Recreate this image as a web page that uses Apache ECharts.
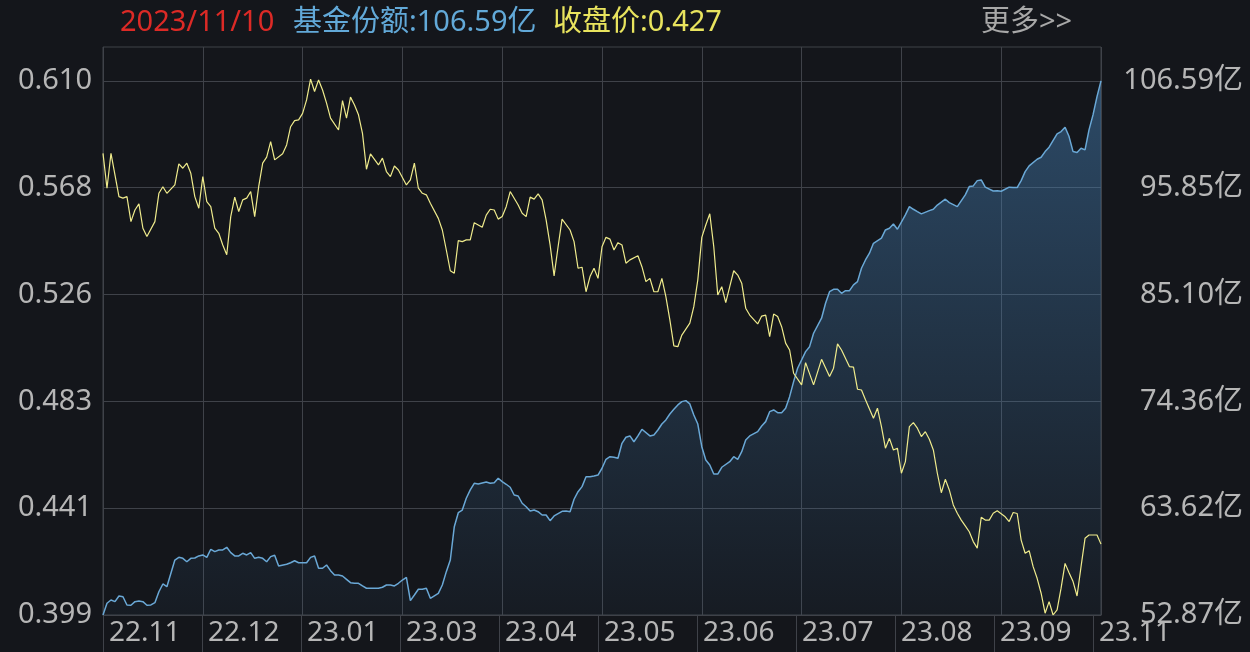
<!DOCTYPE html>
<html>
<head>
<meta charset="utf-8">
<script src="https://cdn.jsdelivr.net/npm/echarts@6/dist/echarts.min.js"></script>
<style>
html,body{margin:0;padding:0;background:#14161b;}
#c{width:1250px;height:652px;}
</style>
</head>
<body>
<div id="c"></div>
<script>
// ---------- data ----------
const headerDate = '2023/11/10';
const headerShare = '基金份额:106.59亿';
const headerPrice = '收盘价:0.427';
const headerMore = '更多>>';

const xTickValues = [0, 25, 50, 75, 100, 125, 150, 175, 200, 225, 250];
const xTickLabels = ['22.11', '22.12', '23.01', '23.03', '23.04', '23.05', '23.06', '23.07', '23.08', '23.09', '23.11'];

const leftTickValues = [0.399, 0.4412, 0.4834, 0.5256, 0.5678, 0.610];
const leftTickLabels = ['0.399', '0.441', '0.483', '0.526', '0.568', '0.610'];
const rightTickValues = [52.87, 63.614, 74.358, 85.102, 95.846, 106.59];
const rightTickLabels = ['52.87亿', '63.62亿', '74.36亿', '85.10亿', '95.85亿', '106.59亿'];

// [trading-day index, close price]
const closePrice = [
[0,0.5814],[1,0.5676],[2,0.5814],[4,0.5643],[5,0.5637],[6,0.5643],[7,0.5544],[8,0.5590],[9,0.5614],[10,0.5518],
[11,0.5485],[13,0.5544],[14,0.5656],[15,0.5682],[16,0.5656],[18,0.5689],[19,0.5772],[20,0.5755],[21,0.5775],[22,0.5735],
[23,0.5643],[24,0.5597],[25,0.5722],[26,0.5623],[27,0.5603],[28,0.5518],[29,0.5498],[30,0.5452],[31,0.5413],[32,0.5564],
[33,0.5641],[34,0.5584],[35,0.5630],[36,0.5637],[37,0.5663],[38,0.5564],[39,0.5682],[40,0.5775],[41,0.5799],[42,0.5860],
[43,0.5788],[45,0.5812],[46,0.5847],[47,0.5919],[48,0.5943],[49,0.5946],[50,0.5972],[51,0.6025],[52,0.6107],[53,0.6058],
[54,0.6104],[55,0.6064],[56,0.6012],[57,0.5953],[59,0.5906],[60,0.6022],[61,0.5953],[62,0.6036],[63,0.6005],[64,0.5966],
[65,0.5893],[66,0.5751],[67,0.5812],[69,0.5768],[70,0.5795],[71,0.5742],[72,0.5722],[73,0.5764],[74,0.5748],[76,0.5689],
[77,0.5709],[78,0.5775],[79,0.5676],[80,0.5656],[81,0.5650],[82,0.5617],[84,0.5557],[85,0.5511],[86,0.5432],[87,0.5350],
[88,0.5340],[89,0.5469],[90,0.5465],[91,0.5472],[92,0.5472],[93,0.5540],[94,0.5531],[95,0.5522],[96,0.5570],[97,0.5593],
[98,0.5590],[99,0.5554],[100,0.5564],[101,0.5603],[102,0.5663],[104,0.5610],[105,0.5577],[106,0.5564],[107,0.5641],[108,0.5633],
[109,0.5654],[110,0.5630],[111,0.5551],[112,0.5452],[113,0.5330],[114,0.5445],[115,0.5554],[117,0.5511],[118,0.5465],[119,0.5360],
[120,0.5364],[121,0.5267],[122,0.5327],[123,0.5360],[124,0.5320],[125,0.5445],[126,0.5482],[127,0.5475],[128,0.5432],[129,0.5461],
[130,0.5452],[131,0.5380],[132,0.5393],[134,0.5409],[135,0.5366],[136,0.5307],[137,0.5320],[138,0.5267],[139,0.5267],[140,0.5320],
[141,0.5248],[142,0.5156],[143,0.5053],[144,0.5050],[145,0.5096],[147,0.5143],[148,0.5208],[149,0.5314],[150,0.5482],[151,0.5531],
[152,0.5575],[153,0.5445],[154,0.5254],[155,0.5287],[156,0.5224],[157,0.5287],[158,0.5350],[159,0.5333],[160,0.5301],[161,0.5202],
[162,0.5175],[164,0.5140],[165,0.5171],[166,0.5175],[167,0.5090],[168,0.5179],[169,0.5169],[170,0.5129],[171,0.5064],[172,0.5037],
[173,0.4945],[175,0.4899],[176,0.4987],[178,0.4899],[180,0.5000],[182,0.4932],[183,0.4965],[184,0.5061],[185,0.5037],[187,0.4971],
[188,0.4969],[189,0.4882],[190,0.4879],[191,0.4840],[193,0.4767],[194,0.4807],[195,0.4734],[196,0.4649],[197,0.4688],[198,0.4642],
[199,0.4649],[200,0.4550],[201,0.4596],[202,0.4734],[203,0.4750],[204,0.4728],[205,0.4695],[206,0.4714],[207,0.4684],[208,0.4642],
[209,0.4550],[210,0.4473],[211,0.4526],[212,0.4484],[213,0.4425],[214,0.4392],[215,0.4365],[216,0.4342],[217,0.4319],[218,0.4280],
[219,0.4254],[220,0.4376],[221,0.4365],[222,0.4365],[223,0.4392],[224,0.4402],[226,0.4378],[227,0.4359],[228,0.4395],[229,0.4391],
[230,0.4286],[231,0.4234],[232,0.4244],[233,0.4181],[234,0.4135],[235,0.4076],[236,0.3997],[237,0.4043],[238,0.3990],[239,0.4010],
[240,0.4096],[241,0.4194],[242,0.4157],[243,0.4122],[244,0.4065],[245,0.4181],[246,0.4293],[247,0.4306],[249,0.4306],[250,0.4270]
];

// [trading-day index, fund share in 亿]
const fundShare = [
[0,52.87],[1,54.05],[2,54.38],[3,54.21],[4,54.78],[5,54.71],[6,53.88],[7,53.85],[8,54.21],[9,54.28],
[10,54.21],[11,53.85],[12,53.88],[13,54.11],[14,55.21],[15,55.99],[16,55.72],[18,58.40],[19,58.67],[20,58.57],
[21,58.23],[22,58.57],[23,58.60],[24,58.81],[25,58.91],[26,58.67],[27,59.48],[28,59.24],[29,59.41],[30,59.41],
[31,59.68],[32,59.14],[33,58.81],[34,58.81],[35,59.08],[36,58.91],[37,59.14],[38,58.57],[39,58.67],[40,58.57],
[41,58.23],[42,58.74],[43,58.88],[44,57.80],[46,57.97],[47,58.13],[48,58.33],[49,58.13],[50,58.13],[51,58.13],
[52,58.67],[53,58.81],[54,57.57],[55,57.57],[56,57.90],[57,57.33],[58,56.89],[59,56.89],[60,56.79],[61,56.46],
[62,56.12],[63,56.06],[64,56.06],[65,55.79],[66,55.56],[67,55.56],[69,55.56],[70,55.66],[71,55.89],[72,55.89],
[73,55.79],[74,56.06],[75,56.39],[76,56.66],[77,54.31],[78,54.88],[79,55.46],[80,55.46],[81,55.56],[82,54.55],
[84,55.05],[85,55.89],[86,57.23],[87,58.40],[88,61.75],[89,63.16],[90,63.43],[91,64.61],[92,65.45],[93,66.12],
[94,66.05],[96,66.25],[97,66.12],[98,66.18],[99,66.62],[100,66.28],[101,66.02],[102,65.72],[103,64.94],[104,64.84],
[105,64.11],[106,63.76],[107,63.33],[108,63.43],[109,63.26],[110,62.93],[111,62.93],[112,62.36],[113,62.83],[115,63.30],
[116,63.33],[117,63.26],[118,64.51],[119,65.27],[120,65.78],[121,66.78],[122,66.78],[123,66.85],[124,66.95],[125,67.63],
[126,68.53],[127,68.79],[128,68.73],[129,68.63],[130,70.14],[131,70.75],[132,70.88],[133,70.30],[134,70.88],[135,71.55],
[137,70.88],[138,70.98],[139,71.48],[140,72.08],[141,72.49],[142,73.09],[143,73.56],[144,74.00],[145,74.33],[146,74.43],
[147,74.10],[148,72.99],[149,72.08],[150,69.80],[151,68.46],[152,67.96],[153,67.05],[154,67.05],[155,67.73],[157,68.29],
[158,68.79],[159,68.53],[160,69.30],[161,70.47],[162,70.88],[164,71.31],[165,71.88],[166,72.32],[167,73.32],[168,73.49],
[169,73.22],[170,73.22],[171,73.66],[172,74.83],[173,76.34],[174,77.69],[176,79.36],[177,79.86],[178,81.21],[180,82.72],
[181,84.23],[182,85.39],[183,85.63],[184,85.63],[185,85.23],[186,85.49],[187,85.49],[188,86.07],[189,86.40],[190,87.75],
[191,88.58],[192,89.26],[193,90.26],[195,90.77],[196,91.60],[197,91.77],[198,92.20],[199,91.67],[201,93.11],[202,93.95],
[203,93.68],[204,93.44],[205,93.21],[207,93.54],[208,93.68],[209,94.10],[211,94.69],[212,94.35],[214,93.95],[216,95.12],
[217,95.96],[218,96.03],[219,96.56],[220,96.63],[221,95.90],[223,95.52],[224,95.55],[225,95.49],[227,95.90],[228,95.86],
[229,95.86],[230,96.56],[231,97.47],[232,98.04],[234,98.71],[235,98.91],[236,99.48],[237,99.92],[239,101.26],[240,101.49],
[241,101.93],[242,100.99],[243,99.48],[244,99.38],[245,99.82],[246,99.65],[247,101.66],[248,103.17],[249,105.01],[250,106.59]
];

// ---------- chart ----------
const F = '"Noto Sans", "Noto Sans CJK SC", sans-serif';
const gridColor = '#3f4249';
const labelColor = '#b6b6b6';

const chart = echarts.init(document.getElementById('c'), null, {renderer: 'canvas'});

function nearestIndex(arr, v) {
  let best = 0;
  for (let i = 1; i < arr.length; i++) {
    if (Math.abs(arr[i] - v) < Math.abs(arr[best] - v)) best = i;
  }
  return best;
}

chart.setOption({
  backgroundColor: '#14161b',
  animation: false,
  grid: {
    left: 103, right: 149, top: 47, bottom: 37,
    show: true, borderColor: gridColor, borderWidth: 1,
    backgroundColor: 'transparent'
  },
  graphic: [
    {type: 'text', left: 120, top: 8, style: {text: headerDate, fill: '#dc2a26', fontSize: 29, fontFamily: F}},
    {type: 'text', left: 293, top: 8, style: {text: headerShare, fill: '#62a9d8', fontSize: 29, fontFamily: F}},
    {type: 'text', left: 553, top: 8, style: {text: headerPrice, fill: '#e9e45e', fontSize: 29, fontFamily: F}},
    {type: 'text', left: 981, top: 8, style: {text: headerMore, fill: '#a8a8a8', fontSize: 29, fontFamily: F}}
  ],
  xAxis: [
    {
      type: 'value', min: 0, max: 250, interval: 25,
      axisLine: {show: true, lineStyle: {color: gridColor, width: 1}},
      axisTick: {show: false},
      axisLabel: {show: false},
      splitLine: {show: true, lineStyle: {color: gridColor, width: 1}}
    },
    {
      type: 'value', min: 0, max: 252, position: 'bottom',
      axisLine: {show: false},
      axisTick: {show: true, length: 37, customValues: xTickValues, lineStyle: {color: gridColor, width: 1}},
      splitLine: {show: false},
      axisLabel: {
        show: true, customValues: xTickValues, align: 'left', margin: 4,
        padding: [0, 0, 0, 6],
        color: labelColor, fontSize: 28, fontFamily: F,
        formatter: function (v) { return xTickLabels[nearestIndex(xTickValues, v)]; }
      }
    }
  ],
  yAxis: [
    {
      type: 'value', position: 'left', min: 0.399, max: 0.6234,
      axisLine: {show: false},
      axisTick: {show: false, customValues: leftTickValues},
      splitLine: {show: true, lineStyle: {color: gridColor, width: 1}},
      axisLabel: {
        customValues: leftTickValues, margin: 11,
        color: labelColor, fontSize: 29, fontFamily: F,
        formatter: function (v) { return leftTickLabels[nearestIndex(leftTickValues, v)]; }
      }
    },
    {
      type: 'value', position: 'right', min: 52.87, max: 110.0,
      axisLine: {show: false},
      axisTick: {show: false, customValues: rightTickValues},
      splitLine: {show: false},
      axisLabel: {
        customValues: rightTickValues, margin: 142, align: 'right',
        color: labelColor, fontSize: 29, fontFamily: F,
        formatter: function (v) { return rightTickLabels[nearestIndex(rightTickValues, v)]; }
      }
    }
  ],
  series: [
    {
      name: '基金份额', type: 'line', xAxisIndex: 0, yAxisIndex: 1,
      data: fundShare, symbol: 'none', smooth: false,
      lineStyle: {color: '#6aa8d6', width: 1.5},
      areaStyle: {
        color: new echarts.graphic.LinearGradient(0, 0, 0, 1, [
          {offset: 0, color: 'rgba(72,134,190,0.66)'},
          {offset: 1, color: 'rgba(72,134,190,0.07)'}
        ])
      },
      z: 2
    },
    {
      name: '收盘价', type: 'line', xAxisIndex: 0, yAxisIndex: 0,
      data: closePrice, symbol: 'none', smooth: false,
      lineStyle: {color: '#efeb8c', width: 1.2},
      z: 3
    }
  ]
});
</script>
</body>
</html>
